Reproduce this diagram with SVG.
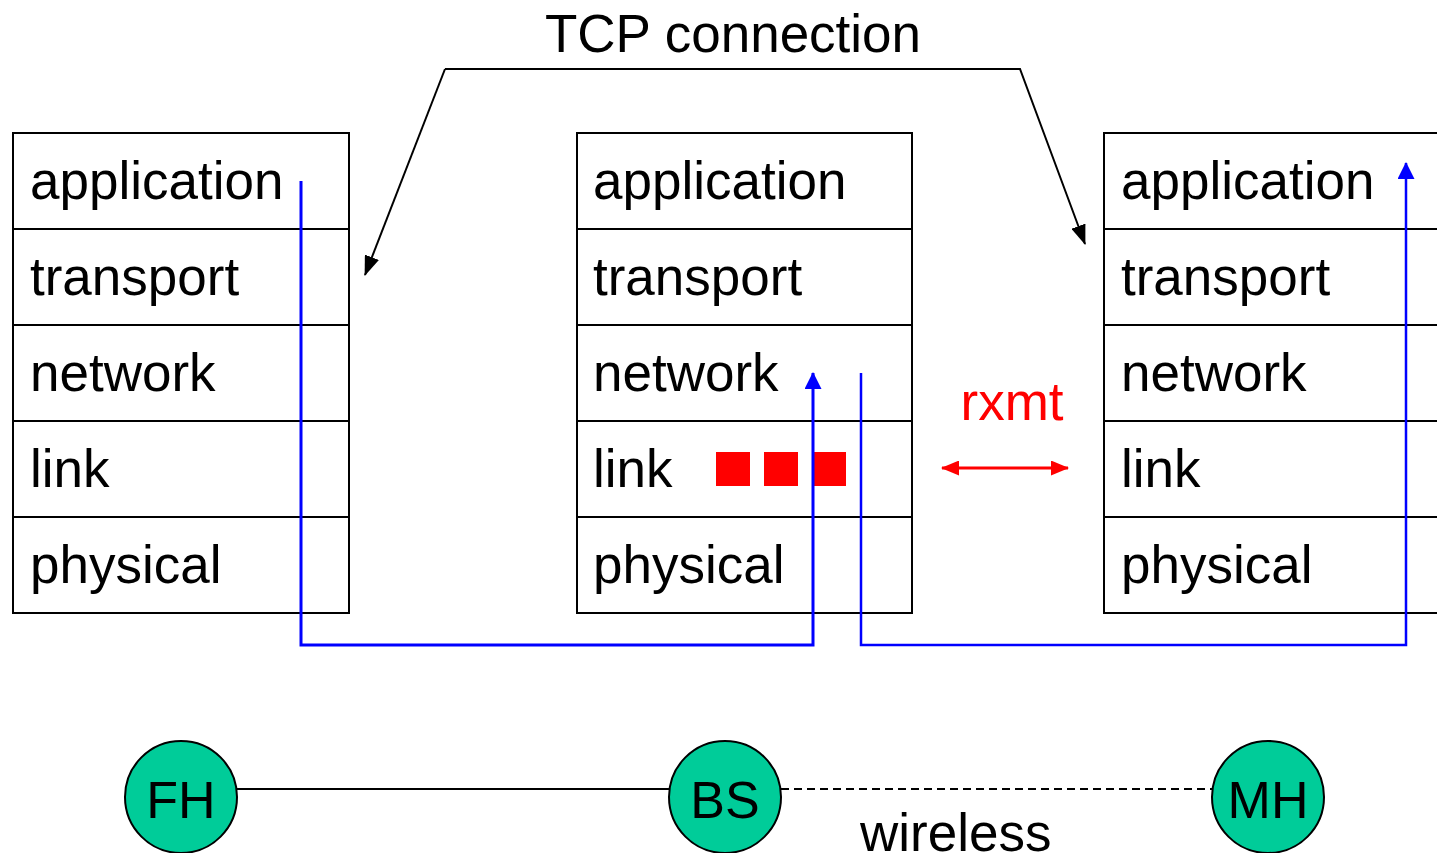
<svg xmlns="http://www.w3.org/2000/svg" width="1437" height="853" viewBox="0 0 1437 853">
<style>
text{font-family:"Liberation Sans",Arial,sans-serif;font-size:53px;fill:#000}
.cell{fill:#fff;stroke:#000;stroke-width:2}
.blue{fill:none;stroke:#0000ff;stroke-width:2}
.blk{fill:none;stroke:#000;stroke-width:2}
.node{fill:#00cc99;stroke:#000;stroke-width:2}
.red{fill:#ff0000}
</style>
<defs>
<marker id="abk" viewBox="0 0 20 15" refX="19" refY="7.5" markerWidth="20" markerHeight="15" markerUnits="userSpaceOnUse" orient="auto"><path d="M0,0 L20,7.5 L0,15 z" fill="#000"/></marker>
<marker id="abl" viewBox="0 0 17 17" refX="16" refY="8.5" markerWidth="17" markerHeight="17" markerUnits="userSpaceOnUse" orient="auto"><path d="M0,0 L17,8.5 L0,17 z" fill="#0000ff"/></marker>
<marker id="ar" viewBox="0 0 18 15" refX="17" refY="7.5" markerWidth="18" markerHeight="15" markerUnits="userSpaceOnUse" orient="auto-start-reverse"><path d="M0,0 L18,7.5 L0,15 z" fill="#ff0000"/></marker>
</defs>

<g id="stack-left">
<rect class="cell" x="13" y="133" width="336" height="96"/>
<rect class="cell" x="13" y="229" width="336" height="96"/>
<rect class="cell" x="13" y="325" width="336" height="96"/>
<rect class="cell" x="13" y="421" width="336" height="96"/>
<rect class="cell" x="13" y="517" width="336" height="96"/>
<text x="30" y="199">application</text>
<text x="30" y="295">transport</text>
<text x="30" y="391">network</text>
<text x="30" y="487">link</text>
<text x="30" y="583">physical</text>
</g>

<g id="stack-middle">
<rect class="cell" x="577" y="133" width="335" height="96"/>
<rect class="cell" x="577" y="229" width="335" height="96"/>
<rect class="cell" x="577" y="325" width="335" height="96"/>
<rect class="cell" x="577" y="421" width="335" height="96"/>
<rect class="cell" x="577" y="517" width="335" height="96"/>
<text x="593" y="199">application</text>
<text x="593" y="295">transport</text>
<text x="593" y="391">network</text>
<text x="593" y="487">link</text>
<text x="593" y="583">physical</text>
<rect class="red" x="716" y="452" width="34" height="34"/>
<rect class="red" x="764" y="452" width="34" height="34"/>
<rect class="red" x="812" y="452" width="34" height="34"/>
</g>

<g id="stack-right">
<rect class="cell" x="1104" y="133" width="340" height="96"/>
<rect class="cell" x="1104" y="229" width="340" height="96"/>
<rect class="cell" x="1104" y="325" width="340" height="96"/>
<rect class="cell" x="1104" y="421" width="340" height="96"/>
<rect class="cell" x="1104" y="517" width="340" height="96"/>
<text x="1121" y="199">application</text>
<text x="1121" y="295">transport</text>
<text x="1121" y="391">network</text>
<text x="1121" y="487">link</text>
<text x="1121" y="583">physical</text>
</g>

<g id="tcp-label">
<text x="733" y="52" text-anchor="middle">TCP connection</text>
</g>
<g id="rxmt-label">
<text x="1012" y="420" text-anchor="middle" style="fill:#ff0000">rxmt</text>
</g>

<g id="fh">
<circle class="node" cx="181" cy="797" r="56"/>
<text x="181" y="818" text-anchor="middle" style="font-size:52px">FH</text>
</g>
<g id="bs">
<circle class="node" cx="725" cy="797" r="56"/>
<text x="725" y="818" text-anchor="middle" style="font-size:52px">BS</text>
</g>
<g id="mh">
<circle class="node" cx="1268" cy="797" r="56"/>
<text x="1268" y="818" text-anchor="middle" style="font-size:52px">MH</text>
</g>
<g id="wireless-label">
<text x="860" y="851">wireless</text>
</g>

<g id="connectors">
<polyline class="blk" points="445,69 1020,69 1085,244" marker-end="url(#abk)"/>
<line class="blk" x1="445" y1="69" x2="365" y2="275" marker-end="url(#abk)"/>
<polyline class="blue" points="301,181 301,645 813,645 813,373" marker-end="url(#abl)" style="stroke-width:3"/>
<polyline class="blue" points="861,373 861,645 1406,645 1406,163" marker-end="url(#abl)" style="stroke-width:2.5"/>
<line x1="942" y1="468" x2="1068" y2="468" stroke="#ff0000" stroke-width="3" marker-start="url(#ar)" marker-end="url(#ar)"/>
<line class="blk" x1="237" y1="789" x2="669" y2="789"/>
<line class="blk" x1="781" y1="789" x2="1212" y2="789" stroke-dasharray="8,5"/>
</g>
</svg>
